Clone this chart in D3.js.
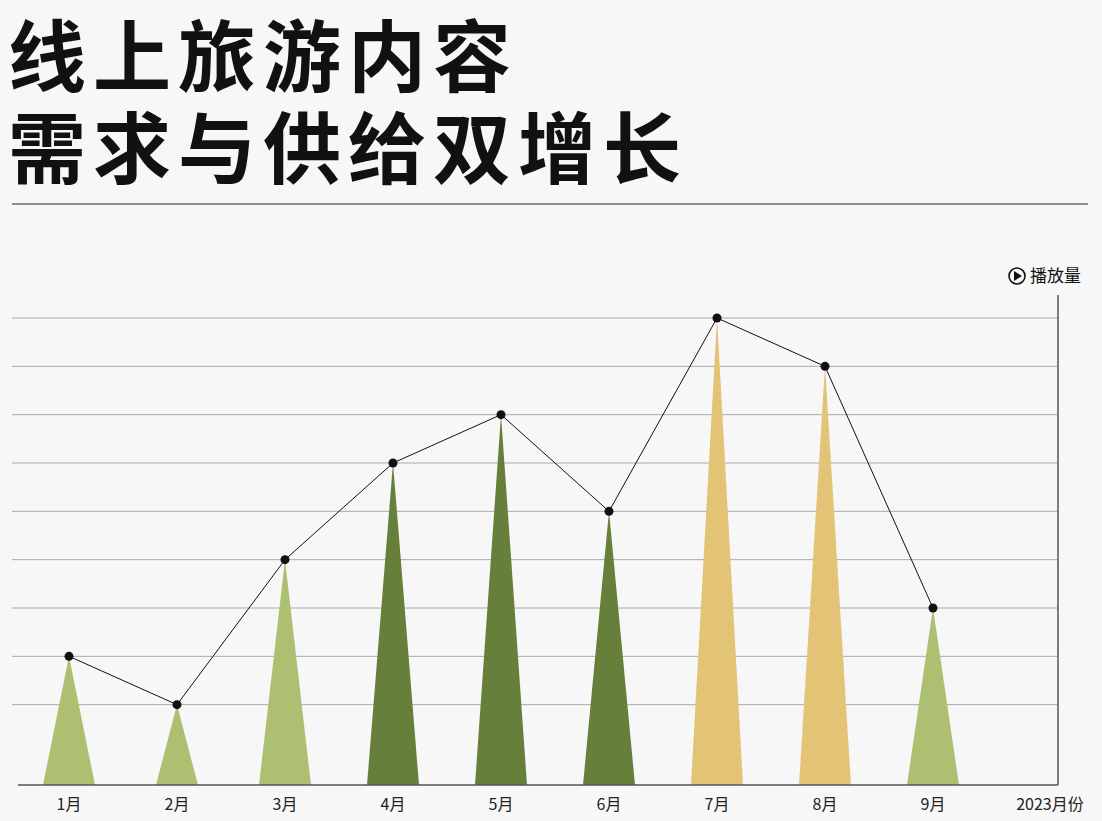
<!DOCTYPE html>
<html><head><meta charset="utf-8">
<script src="https://cdn.jsdelivr.net/npm/d3@7"></script>
<style>
body{margin:0;background:#f7f7f7;font-family:"Noto Sans CJK SC","Noto Sans",sans-serif;}
</style></head><body>
<svg id="c" width="1102" height="821"></svg>
<script>
const months = ['1月','2月','3月','4月','5月','6月','7月','8月','9月'];
const views = [2, 1, 4, 6, 7, 5, 9, 8, 3];
const kinds = ['light','light','light','dark','dark','dark','gold','gold','light'];
const gridLevels = [1,2,3,4,5,6,7,8,9];
const axisUnit = '2023月份';
const colors = {light:'#adbf70', dark:'#66803b', gold:'#e3c376'};

const svg = d3.select('#c');
svg.append('rect').attr('width',1102).attr('height',821).attr('fill','#f7f7f7');

// title
svg.append('text').attr('font-weight',700).attr('font-size',78)
  .attr('letter-spacing',7).attr('fill','#111')
  .attr('x',8).attr('y',86).text('线上旅游内容');
svg.append('text').attr('font-weight',700).attr('font-size',78)
  .attr('letter-spacing',7).attr('fill','#111')
  .attr('x',8).attr('y',178).text('需求与供给双增长');
svg.append('line').attr('x1',12).attr('x2',1088).attr('y1',204).attr('y2',204).attr('stroke','#222').attr('stroke-width',1.2);

const x = d3.scalePoint().domain(months).range([69,933]);
const y = d3.scaleLinear().domain([0,9]).range([753,318]);
const base = 785, half = 26;

svg.append('g').selectAll('line').data(gridLevels).join('line')
  .attr('x1',12).attr('x2',1058).attr('y1',d=>y(d)).attr('y2',d=>y(d))
  .attr('stroke','#aaa').attr('stroke-width',1);

svg.append('g').selectAll('path').data(months).join('path')
  .attr('d',(m,i)=>{const cx=x(m), hw = i===1?21:half;
    return `M${cx-hw},${base}L${cx},${y(views[i])}L${cx+hw},${base}Z`;})
  .attr('fill',(m,i)=>colors[kinds[i]]);

svg.append('line').attr('x1',18).attr('x2',1058).attr('y1',base).attr('y2',base).attr('stroke','#555').attr('stroke-width',1.5);
svg.append('line').attr('x1',1058).attr('x2',1058).attr('y1',295).attr('y2',base).attr('stroke','#555').attr('stroke-width',1.5);

const line = d3.line().x((d,i)=>x(months[i])).y(d=>y(d));
svg.append('path').attr('d',line(views)).attr('fill','none').attr('stroke','#111').attr('stroke-width',1);
svg.append('g').selectAll('circle').data(views).join('circle')
  .attr('cx',(d,i)=>x(months[i])).attr('cy',d=>y(d)).attr('r',4.5).attr('fill','#111');

svg.append('g').selectAll('text').data(months).join('text')
  .attr('x',d=>x(d)).attr('y',810).attr('text-anchor','middle')
  .attr('font-size',16).attr('fill','#222').text(d=>d);
svg.append('text').attr('x',1050).attr('y',810).attr('text-anchor','middle')
  .attr('font-size',16).attr('fill','#222').text(axisUnit);

// legend label
svg.append('circle').attr('cx',1017).attr('cy',276).attr('r',8).attr('fill','none').attr('stroke','#111').attr('stroke-width',1.6);
svg.append('path').attr('d','M1014,271L1022,276L1014,281Z').attr('fill','#111');
svg.append('text').attr('x',1030).attr('y',282).attr('font-size',17).attr('fill','#111').text('播放量');
</script></body></html>
